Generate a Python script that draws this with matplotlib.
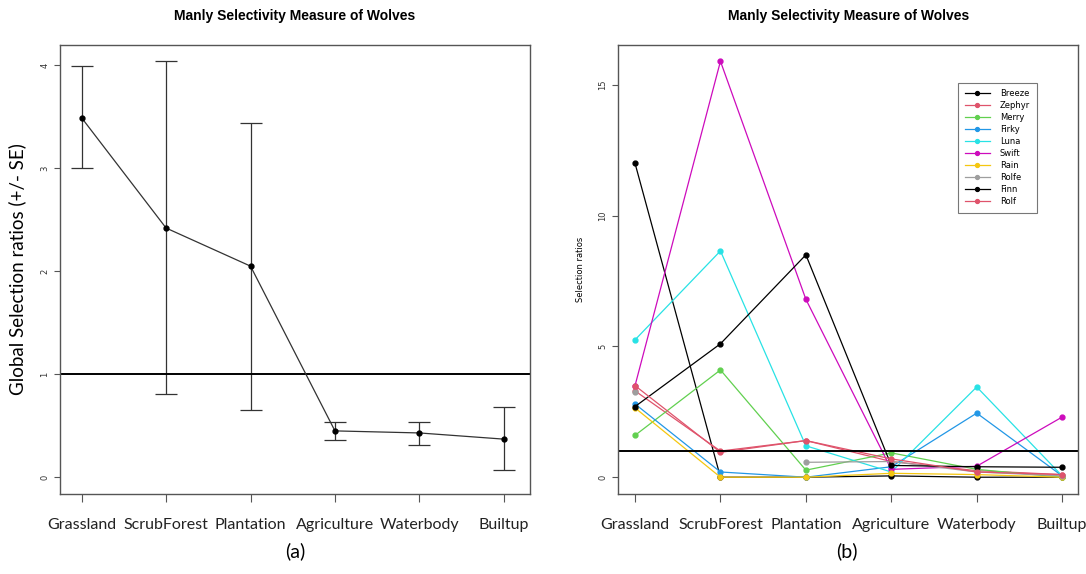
import numpy as np
import matplotlib
matplotlib.use("Agg")
import matplotlib.pyplot as plt

# categorias de habitat
habitats = ["Grassland", "ScrubForest", "Plantation", "Agriculture", "Waterbody", "Builtup"]

# painel (a): razao de selecao global +/- SE
global_ratio = [3.49, 2.42, 2.05, 0.45, 0.43, 0.37]
se_lower = [3.00, 0.81, 0.65, 0.36, 0.31, 0.07]
se_upper = [3.99, 4.04, 3.44, 0.54, 0.54, 0.68]

# painel (b): razao de selecao por lobo
wolves = ["Breeze", "Zephyr", "Merry", "Firky", "Luna", "Swift", "Rain", "Rolfe", "Finn", "Rolf"]
breeze = [12.0, 0.0, 0.0, 0.05, 0.0, 0.0]
zephyr = [3.30, 1.00, 1.40, 0.60, 0.25, 0.10]
merry = [1.60, 4.10, 0.27, 0.93, 0.30, 0.0]
firky = [2.80, 0.20, 0.0, 0.40, 2.45, 0.05]
luna = [5.25, 8.65, 1.20, 0.20, 3.45, 0.05]
swift = [3.50, 15.90, 6.80, 0.30, 0.42, 2.30]
rain = [2.65, 0.0, 0.0, 0.15, 0.10, 0.0]
rolfe = [3.25, np.nan, 0.57, 0.60, 0.20, 0.05]
finn = [2.70, 5.10, 8.50, 0.45, 0.40, 0.38]
rolf = [3.50, 0.95, 1.40, 0.70, 0.20, 0.10]
wolf_values = [breeze, zephyr, merry, firky, luna, swift, rain, rolfe, finn, rolf]

# paleta padrao do R 4
wolf_colors = ["#000000", "#DF536B", "#61D04F", "#2297E6", "#28E2E5",
               "#CD0BBC", "#F5C710", "#9E9E9E", "#000000", "#DF536B"]

label_font = "Lato"
title_font = "Liberation Sans"

fig = plt.figure(figsize=(10.86, 5.74), dpi=100)
x = np.arange(len(habitats))


def estilo_r(ax):
    for s in ax.spines.values():
        s.set_color("#555555")
        s.set_linewidth(1.0)
    ax.tick_params(axis="y", labelsize=6, length=4, color="#555555", labelcolor="#333333")
    ax.tick_params(axis="x", length=6, color="#555555", pad=11)
    for lab in ax.get_yticklabels():
        lab.set_rotation(90)
        lab.set_va("center")
    ax.set_xticks(x)
    ax.set_xticklabels(habitats, fontsize=11.5, family=label_font, color="#222222")
    ax.set_title("Manly Selectivity Measure of Wolves", fontsize=10, fontweight="bold",
                 family=title_font, pad=18)


# painel (a)
ax1 = fig.add_axes([0.055, 0.139, 0.433, 0.783])
g = np.array(global_ratio)
yerr = [g - np.array(se_lower), np.array(se_upper) - g]
ax1.errorbar(x, g, yerr=yerr, color="#333333", lw=0.9, marker="o", ms=3.5,
             mfc="black", mec="black", capsize=8, capthick=0.9, elinewidth=0.9)
ax1.axhline(1, color="black", lw=1.4)
ax1.set_xlim(-0.26, 5.31)
ax1.set_ylim(-0.165, 4.2)
ax1.set_yticks([0, 1, 2, 3, 4])
estilo_r(ax1)
ax1.set_ylabel("Global Selection ratios (+/- SE)", fontsize=13.5, family=label_font, labelpad=10)
fig.text(0.272, 0.03, "(a)", fontsize=14, family=label_font, ha="center")

# painel (b)
ax2 = fig.add_axes([0.569, 0.139, 0.424, 0.783])
for nome, vals, cor in zip(wolves, wolf_values, wolf_colors):
    ax2.plot(x, vals, color=cor, lw=0.9, marker="o", ms=3.5, label=nome)
ax2.axhline(1, color="black", lw=1.4)
ax2.set_xlim(-0.2, 5.19)
ax2.set_ylim(-0.65, 16.53)
ax2.set_yticks([0, 5, 10, 15])
estilo_r(ax2)
ax2.set_ylabel("Selection ratios", fontsize=6, labelpad=10)
leg = ax2.legend(loc="upper left", bbox_to_anchor=(0.73, 0.925), fontsize=6,
                 frameon=True, fancybox=False, edgecolor="#555555",
                 handlelength=3.0, labelspacing=0.36, borderpad=0.8, markerscale=0.8,
                 handletextpad=1.2)
leg.get_frame().set_linewidth(0.8)
fig.text(0.780, 0.03, "(b)", fontsize=14, family=label_font, ha="center")

fig.savefig("out.png", dpi=100, facecolor="white")
